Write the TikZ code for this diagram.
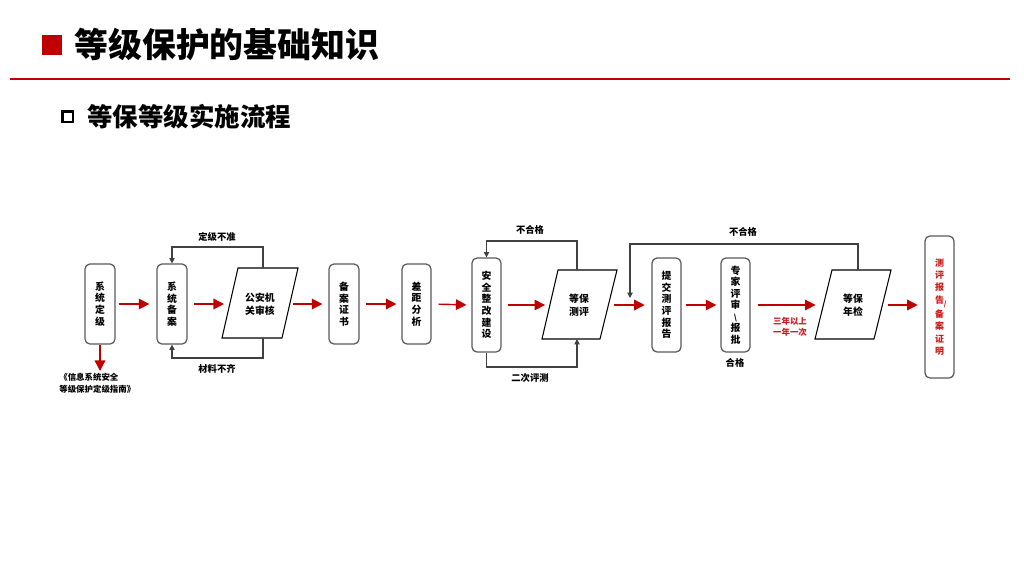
\documentclass[tikz,border=0pt]{standalone}
\usepackage{fontspec}
\setmainfont{Noto Sans CJK SC}
\usetikzlibrary{arrows.meta}
\definecolor{hred}{HTML}{C00000}
\definecolor{ared}{HTML}{C00000}
\definecolor{tred}{HTML}{D01818}
\definecolor{bgray}{HTML}{595959}
\begin{document}
\begin{tikzpicture}[x=0.02cm,y=-0.02cm,
  box/.style={draw=bgray, line width=0.7pt, rounded corners=2.8pt, minimum width=0.6cm,
    inner sep=0pt, align=center, font=\fontsize{5.6}{6.6}\selectfont\bfseries},
  ptext/.style={align=center, inner sep=0pt, font=\fontsize{5.6}{7.4}\selectfont\bfseries},
  lbl/.style={inner sep=0pt, font=\fontsize{5.3}{6.5}\selectfont\bfseries},
  reftext/.style={inner sep=0pt, anchor=west, font=\fontsize{4.8}{6}\selectfont\bfseries},
  redlbl/.style={inner sep=0pt, align=center, text=tred, font=\fontsize{4.8}{6.2}\selectfont\bfseries},
  redarr/.style={draw=ared, line width=0.8pt, -{Triangle[length=6pt,width=6pt]}},
  fb/.style={draw=black!75, line width=0.6pt, -{Triangle[length=3pt,width=3pt]}},
  para/.style={draw=black, line width=0.6pt}]
\useasboundingbox (0,0) rectangle (1024,576);

% header
\fill[hred] (42,35) rectangle (62,55);
\node[anchor=west, inner sep=0pt, font=\fontsize{19.3}{22}\selectfont\bfseries] (title) at (74,45) {等级保护的基础知识};
\draw[hred, line width=1.1pt] (10,79) -- (1010,79);
\draw[line width=1.2pt] (62.5,111.5) rectangle (73,122);
\node[anchor=west, inner sep=0pt, font=\fontsize{14.5}{17}\selectfont\bfseries] (sub) at (87,117) {等保等级实施流程};

% boxes
\node[box, minimum height=1.6cm] (b1) at (100,304) {系\\统\\定\\级};
\node[box, minimum height=1.6cm] (b2) at (172,304) {系\\统\\备\\案};
\node[box, minimum height=1.6cm] (b3) at (344,304) {备\\案\\证\\书};
\node[box, minimum height=1.6cm, minimum width=0.58cm] (b4) at (416.5,304) {差\\距\\分\\析};
\node[box, minimum height=1.88cm, minimum width=0.58cm] (b5) at (486.5,305) {安\\全\\整\\改\\建\\设};
\node[box, minimum height=1.88cm, minimum width=0.58cm] (b6) at (666.5,305) {提\\交\\测\\评\\报\\告};
\node[box, minimum height=1.88cm, minimum width=0.58cm] (b7) at (735.5,305) {专\\家\\评\\审\\{\fontsize{4.5}{5}\selectfont\textbackslash}\\报\\批};
\node[box, minimum height=2.84cm, minimum width=0.58cm, text=tred, font=\fontsize{5.1}{7}\selectfont\bfseries] (b8) at (939.5,307)
  {测\\评\\报\\告\rlap{\raisebox{-2pt}{\fontsize{4}{4}\selectfont /}}\\备\\案\\证\\明};

% parallelograms
\coordinate (p1a) at (238,268); \coordinate (p1b) at (298,268);
\coordinate (p1c) at (282,338); \coordinate (p1d) at (222,338);
\draw[para] (p1a) -- (p1b) -- (p1c) -- (p1d) -- cycle;
\node[ptext] (p1) at (260,304) {公安机\\关审核};
\coordinate (p1in) at (230,304); \coordinate (p1out) at (290,304);
\coordinate (p1top) at (263,268); \coordinate (p1bot) at (263,338);

\coordinate (p2a) at (558,270); \coordinate (p2b) at (617,270);
\coordinate (p2c) at (600,339); \coordinate (p2d) at (542,339);
\draw[para] (p2a) -- (p2b) -- (p2c) -- (p2d) -- cycle;
\node[ptext] (p2) at (579,305) {等保\\测评};
\coordinate (p2in) at (550,305); \coordinate (p2out) at (608.5,305);
\coordinate (p2top) at (577,270); \coordinate (p2bot) at (577,339);

\coordinate (p3a) at (832,270); \coordinate (p3b) at (891,270);
\coordinate (p3c) at (874,339); \coordinate (p3d) at (815,339);
\draw[para] (p3a) -- (p3b) -- (p3c) -- (p3d) -- cycle;
\node[ptext] (p3) at (853,305) {等保\\年检};
\coordinate (p3in) at (823.5,305); \coordinate (p3out) at (882.5,305);
\coordinate (p3top) at (858,270);

% red main arrows
\draw[redarr, shorten <=1.7pt, shorten >=4pt] (b1.east) -- (b2.west);
\draw[redarr, shorten <=3.4pt, shorten >=3.4pt] (b2.east) -- (p1in);
\draw[redarr, shorten <=1.5pt, shorten >=3.4pt] (p1out) -- (b3.west);
\draw[redarr, shorten <=3.4pt, shorten >=2.8pt] (b3.east) -- (b4.west);
\draw[redarr, shorten <=4pt, shorten >=2.8pt] (b4.east) -- (b5.west);
\draw[redarr, shorten <=3.4pt, shorten >=2.8pt] (b5.east) -- (p2in);
\draw[redarr, shorten <=3.2pt, shorten >=3.8pt] (p2out) -- (b6.west);
\draw[redarr, shorten <=2.3pt, shorten >=2.3pt] (b6.east) -- (b7.west);
\draw[redarr, shorten <=4pt, shorten >=4.5pt] (b7.east) -- (p3in);
\draw[redarr, shorten <=3.2pt, shorten >=3.8pt] (p3out) -- (p3out -| b8.west);
\coordinate (refend) at (100,371);
\draw[redarr] (b1.south) -- (refend);

% feedback loops
\draw[fb] (p1top) -- (263,247) -- (172,247) -- (b2.north);
\draw[fb] (p1bot) -- (263,358) -- (172,358) -- (b2.south);
\draw[fb] (p2top) -- (577,241) -- (486.5,241) -- (b5.north);
\draw[fb] (b5.south) -- (486.5,367) -- (577,367) -- (p2bot);
\coordinate (fbend) at (630,298);
\draw[fb] (p3top) -- (858,244) -- (630,244) -- (fbend);

% labels
\node[lbl] (l1) at (217,237) {定级不准};
\node[lbl] (l2) at (217,369) {材料不齐};
\node[lbl] (l3) at (530,230) {不合格};
\node[lbl] (l4) at (530,378) {二次评测};
\node[lbl] (l5) at (743,232) {不合格};
\node[lbl] (l6) at (735,363) {合格};
\node[redlbl] (l7) at (790,327) {三年以上\\一年一次};
\node[reftext] (ref1) at (59,377) {《信息系统安全};
\node[reftext] (ref2) at (59,389) {等级保护定级指南》};
\end{tikzpicture}
\end{document}
